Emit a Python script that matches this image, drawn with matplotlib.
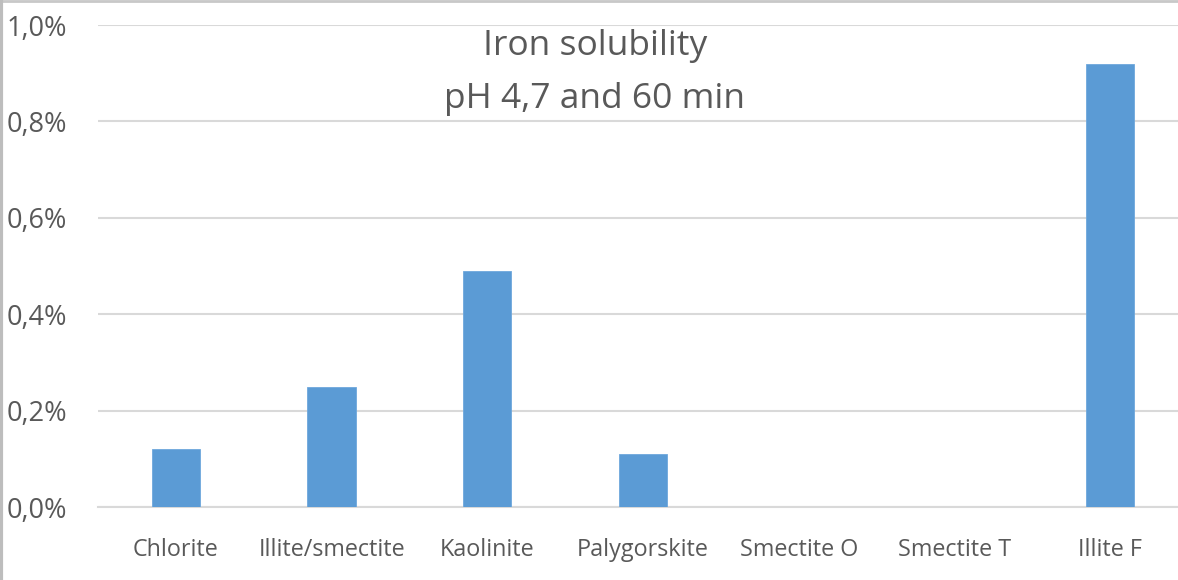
import numpy as np
import matplotlib.pyplot as plt
from matplotlib.lines import Line2D

# Data (iron solubility, %)
minerals = ['Chlorite', 'Illite/smectite', 'Kaolinite', 'Palygorskite',
            'Smectite O', 'Smectite T', 'Illite F']
solubility = [0.12, 0.25, 0.49, 0.11, 0.0, 0.0, 0.92]
yticks = [0.0, 0.2, 0.4, 0.6, 0.8, 1.0]
ytick_labels = ['0,0%', '0,2%', '0,4%', '0,6%', '0,8%', '1,0%']

W, H = 1178, 580
text_grey = '#595959'
bar_blue = '#5b9bd5'

plt.rcParams['font.family'] = ['Open Sans', 'DejaVu Sans']

fig = plt.figure(figsize=(W / 100, H / 100), dpi=100)
fig.patch.set_facecolor('white')

# axes extends a bit past the right edge, the original image is cropped there
ax = fig.add_axes([98 / W, (H - 507) / H, 1090 / W, 482 / H])

x = np.arange(len(minerals))
ax.bar(x, solubility, width=0.31, color=bar_blue, edgecolor='#6fa8dc',
       linewidth=0.6, zorder=3)

ax.set_xlim(-0.5, len(minerals) - 0.5)
ax.set_ylim(0, 1.0)
ax.set_yticks(yticks)
ax.set_yticklabels(ytick_labels, fontsize=19.5, color=text_grey)
ax.set_xticks(x)
ax.set_xticklabels(minerals, fontsize=16.8, color=text_grey)
ax.tick_params(axis='y', length=0, pad=22)
ax.tick_params(axis='x', length=0, pad=22)

ax.grid(axis='y', color='#d9d9d9', linewidth=1.5, zorder=0)
ax.set_axisbelow(True)
for side in ['top', 'right', 'left']:
    ax.spines[side].set_visible(False)
ax.spines['bottom'].set_color('#d9d9d9')
ax.spines['bottom'].set_linewidth(1.5)

# two-line title, centred left of the axes middle like the original
fig.text(595 / W, 1 - 46 / H, 'Iron solubility', ha='center', va='center',
         fontsize=25.5, color=text_grey)
fig.text(595 / W, 1 - 99 / H, 'pH 4,7 and 60 min', ha='center', va='center',
         fontsize=25.5, color=text_grey)

# thin frame remnants at the top and left edges of the screenshot
fig.add_artist(Line2D([0, 1], [0.999, 0.999], color='#c8c8c8', linewidth=2,
                      transform=fig.transFigure))
fig.add_artist(Line2D([0.001, 0.001], [0, 1], color='#bdbdbd', linewidth=3,
                      transform=fig.transFigure))

fig.savefig('out.png', dpi=100)
